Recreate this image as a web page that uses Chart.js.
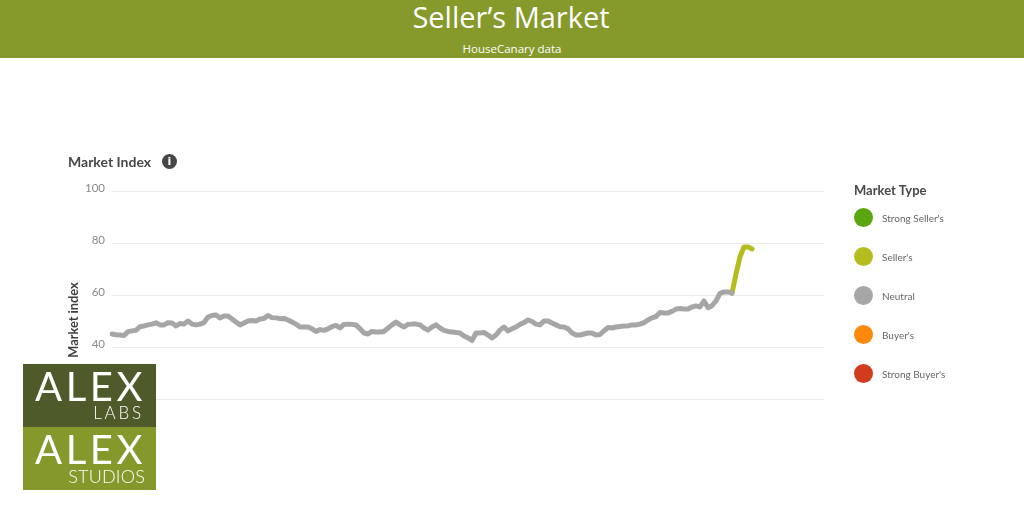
<!DOCTYPE html>
<html>
<head>
<meta charset="utf-8">
<script src="https://cdn.jsdelivr.net/npm/chart.js@4"></script>
<style>
html,body{margin:0;padding:0;background:#fff;width:1024px;height:512px;overflow:hidden}
#c{position:absolute;left:0;top:0}
.t{position:absolute;white-space:nowrap;font-family:Lato,sans-serif}
#band{position:absolute;left:0;top:0;width:1024px;height:58px;background:#86992b}
#title{left:0;width:1022px;text-align:center;top:-4px;color:#fff;font:500 29px/42px "Open Sans",sans-serif}
#sub{left:0;width:1024px;text-align:center;top:41px;color:#fff;font:500 11.5px/16px "Open Sans",sans-serif}
#mi{left:68px;top:154px;font:700 14px/16px Lato,sans-serif;color:#484848}
#info{position:absolute;left:162px;top:154px;width:15px;height:15px;border-radius:50%;background:#474747;color:#fff;font:700 11px/15px "DejaVu Sans",sans-serif;text-align:center}
#yt{left:73px;top:320px;transform:translate(-50%,-50%) rotate(-90deg);font:700 12.8px/14px Lato,sans-serif;color:#3f3f3f}
#mt{left:854px;top:182px;font:700 13px/16px Lato,sans-serif;color:#484848}
.dot{position:absolute;left:854px;width:19px;height:19px;border-radius:50%}
.lab{left:882px;font:400 10px/14px Lato,sans-serif;color:#666}
.logo{position:absolute;left:23px;width:133px;height:63px;color:#fff}
.big{position:absolute;left:1px;width:133px;text-align:center;font:400 40px/40px Lato,sans-serif;letter-spacing:3.6px;top:2px}
.small{position:absolute;right:12px;bottom:5px;font:300 17px/18px Lato,sans-serif}
</style>
</head>
<body>
<canvas id="c" width="1024" height="512"></canvas>
<div id="band"></div>
<div class="t" id="title">Seller’s Market</div>
<div class="t" id="sub">HouseCanary data</div>
<div class="t" id="mi">Market Index</div>
<div id="info">i</div>
<div class="t" id="yt">Market index</div>
<div class="t" id="mt">Market Type</div>
<div id="legend"></div>
<div class="logo" style="top:364px;background:#4e5a2a"><div class="big">ALEX</div><div class="small" style="letter-spacing:2.8px">LABS</div></div>
<div class="logo" style="top:427px;background:#84982c"><div class="big">ALEX</div><div class="small" style="right:11px;letter-spacing:.2px;font-size:18px;bottom:5px">STUDIOS</div></div>
<script>
const marketTypes = ["Strong Seller's","Seller's","Neutral","Buyer's","Strong Buyer's"];
const marketColors = ["#5aa60f","#b5bd1e","#a6a6a6","#fb8a0c","#d23c1e"];
const yTicks = [20,40,60,80,100];
const neutralValues = [
45.0,44.7,44.6,44.4,45.9,46.2,46.4,47.8,48.1,48.5,48.8,49.3,48.5,48.5,49.3,49.2,48.1,49.0,48.8,50.0,
48.8,48.5,48.8,49.4,51.5,52.1,52.3,51.2,51.9,51.9,50.8,49.6,48.5,49.2,50.0,50.2,50.0,50.8,51.0,52.1,
51.3,51.2,50.9,51.0,50.4,49.6,48.8,47.7,47.7,47.7,47.0,46.0,46.7,46.4,47.0,47.8,48.3,47.3,48.7,48.8,
48.7,48.5,47.0,45.4,45.0,46.0,45.8,45.8,46.0,47.3,48.5,49.6,48.5,47.7,48.7,48.8,48.8,48.5,47.3,46.5,
47.7,48.5,47.3,46.4,46.0,45.8,45.6,45.4,44.2,43.5,42.5,45.4,45.4,45.6,44.6,43.5,44.6,46.5,47.7,46.2,
47.0,47.7,48.7,49.4,50.4,49.8,48.8,48.5,50.0,50.0,49.2,48.5,47.8,47.7,47.0,45.4,44.6,44.6,45.0,45.4,
45.4,44.6,44.8,46.2,47.5,47.3,47.7,47.9,48.1,48.1,48.5,48.5,48.8,49.4,50.4,51.2,51.7,53.3,53.1,53.1,
53.7,54.6,54.8,54.6,54.6,55.4,55.8,55.4,57.7,55.1,55.9,57.7,60.6,61.2,61.2,60.7];
const sellerValues = [60.7,68.1,74.7,78.5,78.5,77.7];
const sellerStart = neutralValues.length - 1;
const totalSlots = 179;

const labels = Array.from({length: totalSlots}, (_, i) => String(i));
const neutralData = labels.map((_, i) => i < neutralValues.length ? neutralValues[i] : null);
const sellerData = labels.map((_, i) => {
  const k = i - sellerStart;
  return k >= 0 && k < sellerValues.length ? sellerValues[k] : null;
});

const legend = document.getElementById('legend');
marketTypes.forEach((name, i) => {
  const top = 208 + i * 39;
  const d = document.createElement('div');
  d.className = 'dot';
  d.style.top = top + 'px';
  d.style.background = marketColors[i];
  legend.appendChild(d);
  const l = document.createElement('div');
  l.className = 't lab';
  l.style.top = (top + 3) + 'px';
  l.textContent = name;
  legend.appendChild(l);
});

new Chart(document.getElementById('c'), {
  type: 'line',
  data: {
    labels,
    datasets: [
      {label: marketTypes[2], data: neutralData, borderColor: marketColors[2], borderWidth: 5, pointRadius: 0, tension: 0, spanGaps: false, borderCapStyle: 'round', borderJoinStyle: 'round'},
      {label: marketTypes[1], data: sellerData, borderColor: marketColors[1], borderWidth: 5, pointRadius: 0, tension: 0, spanGaps: false, borderCapStyle: 'round', borderJoinStyle: 'round'}
    ]
  },
  options: {
    responsive: false,
    animation: false,
    layout: {padding: {left: 0, right: 200, top: 191, bottom: 113}},
    plugins: {legend: {display: false}, tooltip: {enabled: false}},
    scales: {
      x: {display: false, offset: false},
      y: {
        min: 20, max: 100,
        afterBuildTicks: s => { s.ticks = yTicks.map(v => ({value: v})); },
        afterFit: s => { s.width = 112; },
        grid: {color: '#ececec', lineWidth: 1, drawTicks: false},
        border: {display: false},
        ticks: {color: '#8a8a8a', font: {family: 'Lato', size: 11.5}, padding: 7, labelOffset: -3}
      }
    }
  }
});
</script>
</body>
</html>
